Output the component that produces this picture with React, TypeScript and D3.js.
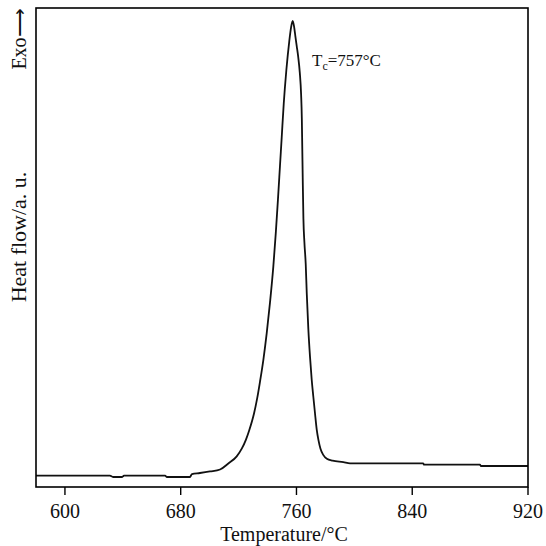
import React from "react";
import * as d3 from "d3";

// Temperature (°C) and heat flow (a.u.)
const temps = [
  580.0, 631.1, 633.2, 639.4, 640.8, 669.2, 670.5, 686.4, 687.8, 693.3, 700.2, 707.2,
  712.9, 718.7, 722.2, 725.1, 727.2, 730.7, 732.9, 734.8, 737.1, 739.4, 741.7, 744.0,
  745.7, 747.2, 748.6, 749.8, 751.2, 753.0, 755.0, 756.3, 757.4,
  758.4, 759.2, 760.2, 761.2, 762.3, 763.2, 763.7, 764.0, 764.4, 764.8, 765.5, 766.4, 767.1,
  768.2, 769.4, 770.5, 771.6, 772.8, 774.0, 775.2, 776.6, 778.5, 781.0, 785.0, 792.4,
  797.0, 847.5, 848.2, 886.8, 887.5, 920.0,
];
const heatFlow = [
  2.36, 2.36, 2.09, 2.09, 2.36, 2.36, 2.09, 2.09, 2.71, 2.92, 3.24, 3.65,
  4.9, 6.4, 8.0, 9.9, 11.7, 15.4, 18.6, 22.0, 26.5, 32.0, 38.5, 46.0,
  53.0, 60.0, 67.0, 73.0, 80.0, 87.0, 93.0, 96.0, 97.3,
  96.0, 94.2, 92.0, 89.8, 86.5, 82.0, 77.0, 71.0, 63.0, 56.0, 51.0, 46.5, 40.5,
  33.0, 27.0, 22.5, 19.0, 15.4, 12.0, 9.8, 8.0, 6.7, 5.9, 5.5, 5.2,
  4.95, 4.95, 4.66, 4.66, 4.38, 4.38,
];
const xTicks = [600, 680, 760, 840, 920];
const xTitle = "Temperature/°C";
const yTitle = "Heat flow/a. u.";
const exoLabel = "Exo⟶";
const peakLabelMain = "T";
const peakLabelSub = "c";
const peakLabelRest = "=757°C";

const W = 546;
const H = 546;
const M = { left: 36, right: 18, top: 8, bottom: 59 };
const FONT = "'Liberation Serif', 'Times New Roman', serif";

export default function App() {
  const x = d3.scaleLinear().domain([580, 920]).range([M.left, W - M.right]);
  const y = d3.scaleLinear().domain([0, 100]).range([H - M.bottom, H - M.bottom - 479]);
  const pts = temps.map((t, i) => [t, heatFlow[i]] as [number, number]);
  const line = d3
    .line<[number, number]>()
    .x((d) => x(d[0]))
    .y((d) => y(d[1]))
    .curve(d3.curveMonotoneX);
  const x0 = M.left;
  const x1 = W - M.right;
  const y0 = M.top;
  const y1 = H - M.bottom;
  return (
    <svg width={W} height={H} style={{ position: "absolute", left: 0, top: 0, background: "#fff" }}>
      <rect x={0} y={0} width={W} height={H} fill="#fff" />
      <path d={line(pts) || ""} fill="none" stroke="#111" strokeWidth={1.8} />
      <rect x={x0} y={y0} width={x1 - x0} height={y1 - y0} fill="none" stroke="#000" strokeWidth={1.6} />
      {xTicks.map((t) => (
        <g key={t}>
          <line x1={x(t)} x2={x(t)} y1={y1} y2={y1 + 8} stroke="#000" strokeWidth={1.4} />
          <text x={x(t)} y={y1 + 31} textAnchor="middle" fontFamily={FONT} fontSize={20} fill="#111">
            {t}
          </text>
        </g>
      ))}
      <text x={284} y={541} textAnchor="middle" fontFamily={FONT} fontSize={20} fill="#111">
        {xTitle}
      </text>
      <text
        transform={`translate(26,237) rotate(-90)`}
        textAnchor="middle"
        fontFamily={FONT}
        fontSize={22}
        fill="#111"
      >
        {yTitle}
      </text>
      <text
        transform={`translate(26,39) rotate(-90)`}
        textAnchor="middle"
        fontFamily={FONT}
        fontSize={20}
        fill="#111"
      >
        {exoLabel}
      </text>
      <text x={312} y={66} fontFamily={FONT} fontSize={17} fill="#111">
        {peakLabelMain}
        <tspan fontSize={12} dy={4}>
          {peakLabelSub}
        </tspan>
        <tspan dy={-4}>{peakLabelRest}</tspan>
      </text>
    </svg>
  );
}
